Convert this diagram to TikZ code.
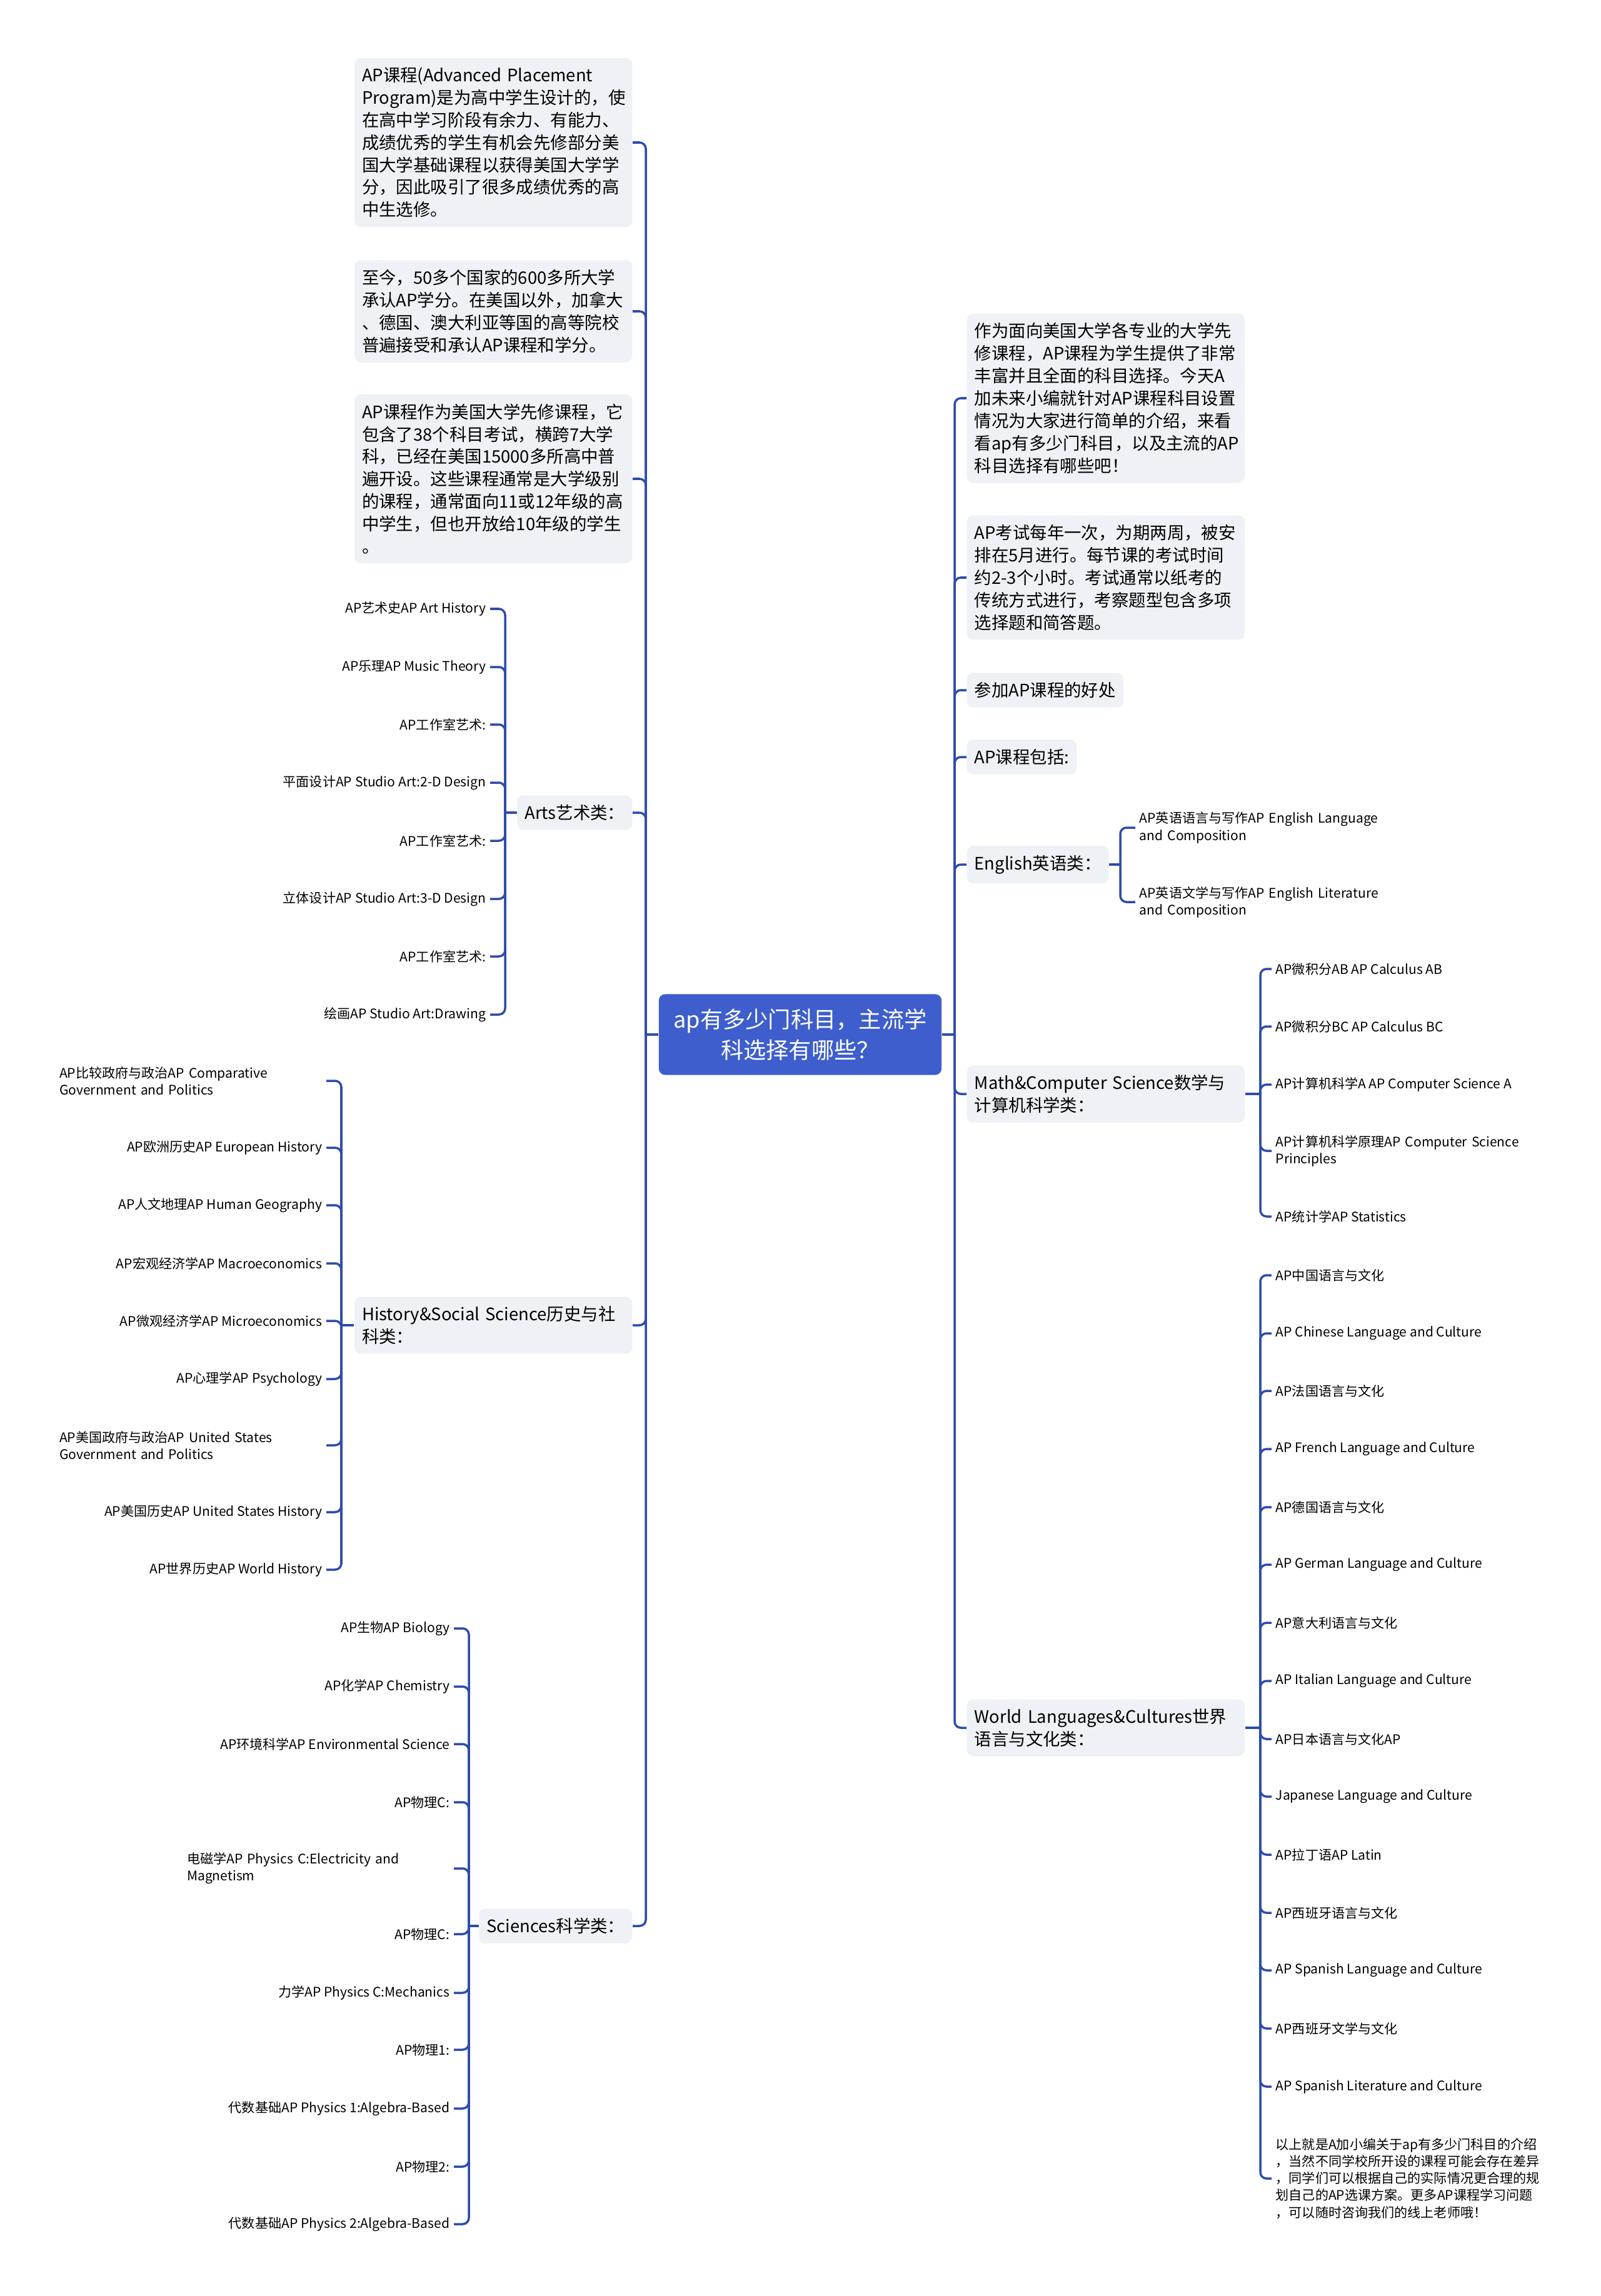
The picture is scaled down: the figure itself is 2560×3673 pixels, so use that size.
\documentclass[tikz,border=0pt]{standalone}
\usepackage{fontspec}
\setmainfont{Noto Sans CJK SC}
\definecolor{rootblue}{RGB}{61,94,204}
\definecolor{linkblue}{RGB}{46,76,172}
\definecolor{boxgray}{RGB}{238,241,245}
\begin{document}
\begin{tikzpicture}[x=0.01cm,y=-0.01cm,
  root/.style={fill=rootblue,text=white,rounded corners=0.1cm,minimum width=4.52cm,minimum height=1.29cm,align=center,font=\fontsize{10.3}{14}\selectfont},
  topic/.style={fill=boxgray,rounded corners=0.1cm,inner xsep=0.12cm,inner ysep=0.15cm,font=\fontsize{7.8}{10.2}\selectfont},
  para/.style={topic,text width=4.2cm,align=left},
  leaf/.style={inner xsep=0.06cm,inner ysep=0.03cm,font=\fontsize{6}{7.7}\selectfont},
  wideleaf/.style={leaf,text width=4.2cm,align=left},
  link/.style={draw=linkblue,line width=1pt,rounded corners=0.1cm}]
  \useasboundingbox (0,0) rectangle (2560,3673);

  % 中心主题
  \node[root] (root) at (1280,1655) {ap有多少门科目，主流学\\科选择有哪些？};

  % 左侧分支
  \node[para,anchor=east] (L1) at (1012,228) {AP课程(Advanced Placement\\Program)是为高中学生设计的，使\\在高中学习阶段有余力、有能力、\\成绩优秀的学生有机会先修部分美\\国大学基础课程以获得美国大学学\\分，因此吸引了很多成绩优秀的高\\中生选修。};
  \node[para,anchor=east] (L2) at (1012,498) {至今，50多个国家的600多所大学\\承认AP学分。在美国以外，加拿大\\、德国、澳大利亚等国的高等院校\\普遍接受和承认AP课程和学分。};
  \node[para,anchor=east] (L3) at (1012,766) {AP课程作为美国大学先修课程，它\\包含了38个科目考试，横跨7大学\\科，已经在美国15000多所高中普\\遍开设。这些课程通常是大学级别\\的课程，通常面向11或12年级的高\\中学生，但也开放给10年级的学生\\。};
  \node[topic,anchor=east] (arts) at (1012,1300) {Arts艺术类：};
  \node[para,anchor=east] (hist) at (1012,2120) {History\&Social Science历史与社\\科类：};
  \node[topic,anchor=east] (sci) at (1012,3081) {Sciences科学类：};

  % 艺术类
  \node[leaf,anchor=east] (a1) at (784,974) {AP艺术史AP Art History};
  \node[leaf,anchor=east] (a2) at (784,1067) {AP乐理AP Music Theory};
  \node[leaf,anchor=east] (a3) at (784,1159) {AP工作室艺术:};
  \node[leaf,anchor=east] (a4) at (784,1252) {平面设计AP Studio Art:2-D Design};
  \node[leaf,anchor=east] (a5) at (784,1345) {AP工作室艺术:};
  \node[leaf,anchor=east] (a6) at (784,1438) {立体设计AP Studio Art:3-D Design};
  \node[leaf,anchor=east] (a7) at (784,1530) {AP工作室艺术:};
  \node[leaf,anchor=east] (a8) at (784,1623) {绘画AP Studio Art:Drawing};

  % 历史与社科类
  \node[wideleaf,anchor=east] (h1) at (522,1729) {AP比较政府与政治AP Comparative\\Government and Politics};
  \node[leaf,anchor=east] (h2) at (522,1836) {AP欧洲历史AP European History};
  \node[leaf,anchor=east] (h3) at (522,1928) {AP人文地理AP Human Geography};
  \node[leaf,anchor=east] (h4) at (522,2021) {AP宏观经济学AP Macroeconomics};
  \node[leaf,anchor=east] (h5) at (522,2113) {AP微观经济学AP Microeconomics};
  \node[leaf,anchor=east] (h6) at (522,2206) {AP心理学AP Psychology};
  \node[wideleaf,anchor=east] (h7) at (522,2312) {AP美国政府与政治AP United States\\Government and Politics};
  \node[leaf,anchor=east] (h8) at (522,2419) {AP美国历史AP United States History};
  \node[leaf,anchor=east] (h9) at (522,2511) {AP世界历史AP World History};

  % 科学类
  \node[leaf,anchor=east] (s1) at (726,2605) {AP生物AP Biology};
  \node[leaf,anchor=east] (s2) at (726,2698) {AP化学AP Chemistry};
  \node[leaf,anchor=east] (s3) at (726,2790) {AP环境科学AP Environmental Science};
  \node[leaf,anchor=east] (s4) at (726,2883) {AP物理C:};
  \node[wideleaf,anchor=east] (s5) at (726,2989) {电磁学AP Physics C:Electricity and\\Magnetism};
  \node[leaf,anchor=east] (s6) at (726,3094) {AP物理C:};
  \node[leaf,anchor=east] (s7) at (726,3188) {力学AP Physics C:Mechanics};
  \node[leaf,anchor=east] (s8) at (726,3279) {AP物理1:};
  \node[leaf,anchor=east] (s9) at (726,3373) {代数基础AP Physics 1:Algebra-Based};
  \node[leaf,anchor=east] (s10) at (726,3466) {AP物理2:};
  \node[leaf,anchor=east] (s11) at (726,3558) {代数基础AP Physics 2:Algebra-Based};

  % 右侧分支
  \node[para,anchor=west] (R1) at (1546,637) {作为面向美国大学各专业的大学先\\修课程，AP课程为学生提供了非常\\丰富并且全面的科目选择。今天A\\加未来小编就针对AP课程科目设置\\情况为大家进行简单的介绍，来看\\看ap有多少门科目，以及主流的AP\\科目选择有哪些吧！};
  \node[para,anchor=west] (R2) at (1546,924) {AP考试每年一次，为期两周，被安\\排在5月进行。每节课的考试时间\\约2-3个小时。考试通常以纸考的\\传统方式进行，考察题型包含多项\\选择题和简答题。};
  \node[topic,anchor=west] (gain) at (1546,1104) {参加AP课程的好处};
  \node[topic,anchor=west] (incl) at (1546,1211) {AP课程包括:};
  \node[topic,anchor=west] (eng) at (1546,1383) {English英语类：};
  \node[para,anchor=west] (math) at (1546,1750) {Math\&Computer Science数学与\\计算机科学类：};
  \node[para,anchor=west] (world) at (1546,2764) {World Languages\&Cultures世界\\语言与文化类：};

  % 英语类
  \node[wideleaf,anchor=west] (e1) at (1816,1324) {AP英语语言与写作AP English Language\\and Composition};
  \node[wideleaf,anchor=west] (e2) at (1816,1443) {AP英语文学与写作AP English Literature\\and Composition};

  % 数学与计算机科学类
  \node[leaf,anchor=west] (m1) at (2034,1550) {AP微积分AB AP Calculus AB};
  \node[leaf,anchor=west] (m2) at (2034,1642) {AP微积分BC AP Calculus BC};
  \node[leaf,anchor=west] (m3) at (2034,1735) {AP计算机科学A AP Computer Science A};
  \node[wideleaf,anchor=west] (m4) at (2034,1841) {AP计算机科学原理AP Computer Science\\Principles};
  \node[leaf,anchor=west] (m5) at (2034,1946) {AP统计学AP Statistics};

  % 世界语言与文化类
  \node[leaf,anchor=west] (w1) at (2034,2040) {AP中国语言与文化};
  \node[leaf,anchor=west] (w2) at (2034,2133) {AP Chinese Language and Culture};
  \node[leaf,anchor=west] (w3) at (2034,2225) {AP法国语言与文化};
  \node[leaf,anchor=west] (w4) at (2034,2318) {AP French Language and Culture};
  \node[leaf,anchor=west] (w5) at (2034,2411) {AP德国语言与文化};
  \node[leaf,anchor=west] (w6) at (2034,2503) {AP German Language and Culture};
  \node[leaf,anchor=west] (w7) at (2034,2596) {AP意大利语言与文化};
  \node[leaf,anchor=west] (w8) at (2034,2689) {AP Italian Language and Culture};
  \node[leaf,anchor=west] (w9) at (2034,2782) {AP日本语言与文化AP};
  \node[leaf,anchor=west] (w10) at (2034,2874) {Japanese Language and Culture};
  \node[leaf,anchor=west] (w11) at (2034,2967) {AP拉丁语AP Latin};
  \node[leaf,anchor=west] (w12) at (2034,3060) {AP西班牙语言与文化};
  \node[leaf,anchor=west] (w13) at (2034,3152) {AP Spanish Language and Culture};
  \node[leaf,anchor=west] (w14) at (2034,3245) {AP西班牙文学与文化};
  \node[leaf,anchor=west] (w15) at (2034,3338) {AP Spanish Literature and Culture};
  \node[wideleaf,anchor=west] (w16) at (2034,3485) {以上就是A加小编关于ap有多少门科目的介绍\\，当然不同学校所开设的课程可能会存在差异\\，同学们可以根据自己的实际情况更合理的规\\划自己的AP选课方案。更多AP课程学习问题\\，可以随时咨询我们的线上老师哦！};

  % 连线
  \coordinate (lbar) at (1033,1655);
  \coordinate (rbar) at (1527,1655);
  \coordinate (abar) at (808,1300);
  \coordinate (hbar) at (546,2120);
  \coordinate (sbar) at (750,3081);
  \coordinate (ebar) at (1792,1383);
  \coordinate (mbar) at (2016,1750);
  \coordinate (wbar) at (2016,2764);

  \draw[link] (root.west) -- (lbar);
  \foreach \n in {L1,L2,L3,arts,hist,sci} \draw[link] (lbar) |- (\n.east);
  \draw[link] (root.east) -- (rbar);
  \foreach \n in {R1,R2,gain,incl,eng,math,world} \draw[link] (rbar) |- (\n.west);

  \draw[link] (arts.west) -- (abar);
  \foreach \n in {a1,a2,a3,a4,a5,a6,a7,a8} \draw[link] (abar) |- (\n.east);
  \draw[link] (hist.west) -- (hbar);
  \foreach \n in {h1,h2,h3,h4,h5,h6,h7,h8,h9} \draw[link] (hbar) |- (\n.east);
  \draw[link] (sci.west) -- (sbar);
  \foreach \n in {s1,s2,s3,s4,s5,s6,s7,s8,s9,s10,s11} \draw[link] (sbar) |- (\n.east);

  \draw[link] (eng.east) -- (ebar);
  \foreach \n in {e1,e2} \draw[link] (ebar) |- (\n.west);
  \draw[link] (math.east) -- (mbar);
  \foreach \n in {m1,m2,m3,m4,m5} \draw[link] (mbar) |- (\n.west);
  \draw[link] (world.east) -- (wbar);
  \foreach \n in {w1,w2,w3,w4,w5,w6,w7,w8,w9,w10,w11,w12,w13,w14,w15,w16} \draw[link] (wbar) |- (\n.west);
\end{tikzpicture}
\end{document}
